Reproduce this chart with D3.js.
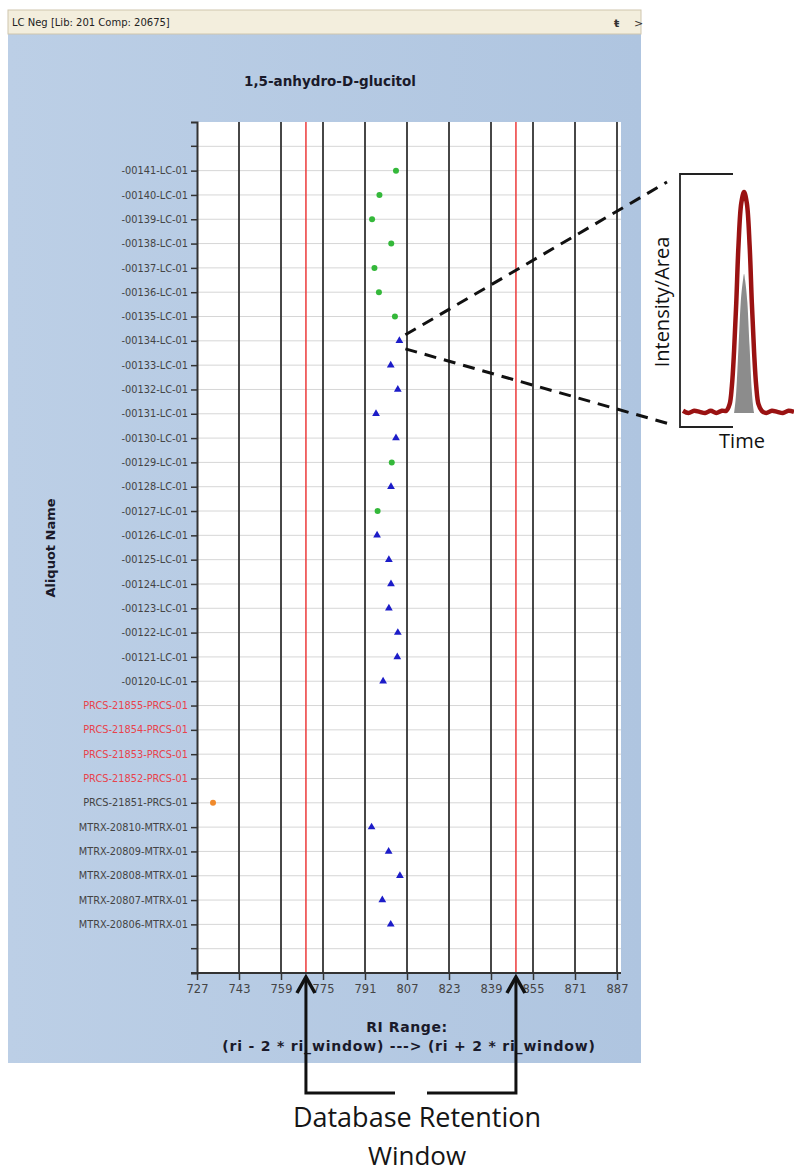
<!DOCTYPE html>
<meta charset="utf-8">
<script src="https://d3js.org/d3.v7.min.js"></script>
<style>
  body { margin: 0; background: #fff; }
</style>
<div id="chart"></div>
<script>

var aliquots = [
  "-00141-LC-01", "-00140-LC-01", "-00139-LC-01", "-00138-LC-01", "-00137-LC-01",
  "-00136-LC-01", "-00135-LC-01", "-00134-LC-01", "-00133-LC-01", "-00132-LC-01",
  "-00131-LC-01", "-00130-LC-01", "-00129-LC-01", "-00128-LC-01", "-00127-LC-01",
  "-00126-LC-01", "-00125-LC-01", "-00124-LC-01", "-00123-LC-01", "-00122-LC-01",
  "-00121-LC-01", "-00120-LC-01",
  "PRCS-21855-PRCS-01", "PRCS-21854-PRCS-01", "PRCS-21853-PRCS-01", "PRCS-21852-PRCS-01",
  "PRCS-21851-PRCS-01",
  "MTRX-20810-MTRX-01", "MTRX-20809-MTRX-01", "MTRX-20808-MTRX-01", "MTRX-20807-MTRX-01",
  "MTRX-20806-MTRX-01"
];

var riValues = [
  802.8, 796.5, 793.7, 801.0, 794.6,
  796.3, 802.4, 804.1, 800.8, 803.5,
  795.2, 802.8, 801.2, 800.9, 795.8,
  795.6, 800.1, 800.9, 800.1, 803.5,
  803.3, 797.9,
  null, null, null, null,
  733.1,
  793.5, 800.0, 804.3, 797.6,
  800.8
];

var markerTypes = [
  "green", "green", "green", "green", "green",
  "green", "green", "blue", "blue", "blue",
  "blue", "blue", "green", "blue", "green",
  "blue", "blue", "blue", "blue", "blue",
  "blue", "blue",
  "none", "none", "none", "none",
  "orange",
  "blue", "blue", "blue", "blue",
  "blue"
];

var flaggedAliquots = ["PRCS-21855-PRCS-01", "PRCS-21854-PRCS-01", "PRCS-21853-PRCS-01", "PRCS-21852-PRCS-01"];

var xTicks = [727, 743, 759, 775, 791, 807, 823, 839, 855, 871, 887];
var windowBounds = [768.5, 848.5];

// inset peak, read by eye (time %, intensity %)
var peakTime =      [0, 5, 10, 15, 20, 25, 30, 35, 39, 42, 44, 46, 48, 50, 52.5, 55, 57.5, 60, 62, 64, 66, 68, 71, 75, 80, 85, 90, 95, 100];
var peakIntensity = [1, 0, 1, 0.5, 0, 1, 0, 1, 1, 4, 12, 28, 50, 76, 95, 100, 95, 76, 50, 28, 12, 4, 1, 0, 1, 0.5, 0, 1, 0.5];
var areaTime =      [46, 48, 50, 52, 54, 55, 56, 58, 60, 62, 64];
var areaIntensity = [0, 10, 30, 50, 60, 63, 60, 50, 30, 10, 0];

var colors = { green: "#34b83a", blue: "#1c1cc8", orange: "#f08a2c" };

var svg = d3.select("#chart")
  .append("svg")
    .attr("width", 794)
    .attr("height", 1176)
    .style("display", "block");

var defs = svg.append("defs");
var grad = defs.append("linearGradient").attr("id", "panelGrad");
grad.append("stop").attr("offset", "0%").attr("stop-color", "#bccfe6");
grad.append("stop").attr("offset", "100%").attr("stop-color", "#afc5e0");

// window frame
svg.append("rect")
  .attr("x", 8).attr("y", 34).attr("width", 633).attr("height", 1029)
  .attr("fill", "url(#panelGrad)");

svg.append("rect")
  .attr("x", 8).attr("y", 10).attr("width", 633).attr("height", 24)
  .attr("fill", "#f3eedd")
  .attr("stroke", "#cfc6ad");

svg.append("text")
  .attr("x", 12).attr("y", 26)
  .attr("font-family", "DejaVu Sans, sans-serif")
  .attr("font-size", "10px")
  .attr("fill", "#222")
  .text("LC Neg [Lib: 201 Comp: 20675]");

svg.append("text")
  .attr("x", 614).attr("y", 27)
  .attr("font-family", "DejaVu Sans, sans-serif")
  .attr("font-size", "11px")
  .attr("font-weight", "bold")
  .attr("fill", "#333")
  .text("ŧ");
svg.append("text")
  .attr("x", 634).attr("y", 27)
  .attr("font-family", "DejaVu Sans, sans-serif")
  .attr("font-size", "11px")
  .attr("fill", "#333")
  .text(">");

// chart title
svg.append("text")
  .attr("x", 330).attr("y", 86)
  .attr("text-anchor", "middle")
  .attr("font-family", "DejaVu Sans, sans-serif")
  .attr("font-size", "13.5px")
  .attr("font-weight", "bold")
  .attr("fill", "#1a1a2a")
  .text("1,5-anhydro-D-glucitol");

// scales
var plotTop = 122, plotBottom = 973;

var x = d3.scaleLinear()
  .domain([727, 887])
  .range([197, 617]);

var y = d3.scalePoint()
  .domain(aliquots)
  .range([plotTop, plotBottom])
  .padding(2);

var plotRight = x(887) + 4;

svg.append("rect")
  .attr("x", x(727)).attr("y", plotTop)
  .attr("width", plotRight - x(727)).attr("height", plotBottom - plotTop)
  .attr("fill", "#fff");

// horizontal grid (rows plus one blank row above and below)
var rowYs = aliquots.map(function(d) { return y(d); });
rowYs.push(y(aliquots[0]) - y.step());
rowYs.push(y(aliquots[aliquots.length - 1]) + y.step());

svg.append("g")
  .selectAll("line")
  .data(rowYs)
  .enter()
  .append("line")
    .attr("x1", x(727)).attr("x2", plotRight)
    .attr("y1", function(d) { return d; })
    .attr("y2", function(d) { return d; })
    .attr("stroke", "#d6d6d6")
    .attr("stroke-width", 1);

// vertical grid
svg.append("g")
  .selectAll("line")
  .data(xTicks.slice(1))
  .enter()
  .append("line")
    .attr("x1", function(d) { return x(d); })
    .attr("x2", function(d) { return x(d); })
    .attr("y1", plotTop).attr("y2", plotBottom)
    .attr("stroke", "#333")
    .attr("stroke-width", 1.8);

// retention window
svg.append("g")
  .selectAll("line")
  .data(windowBounds)
  .enter()
  .append("line")
    .attr("x1", function(d) { return x(d); })
    .attr("x2", function(d) { return x(d); })
    .attr("y1", plotTop).attr("y2", plotBottom)
    .attr("stroke", "#ec3a3a")
    .attr("stroke-width", 1.5);

// y axis
var yAxis = svg.append("g")
  .attr("transform", "translate(" + x(727) + ",0)")
  .call(d3.axisLeft(y).tickSize(6).tickSizeOuter(6).tickPadding(3));

yAxis.select(".domain").attr("stroke", "#333").attr("stroke-width", 2);
yAxis.selectAll(".tick line").attr("stroke", "#333").attr("stroke-width", 1.5);
yAxis.selectAll(".tick text")
  .attr("font-family", "DejaVu Sans, sans-serif")
  .attr("font-size", "9.8px")
  .attr("fill", function(d) { return flaggedAliquots.indexOf(d) >= 0 ? "#e8434c" : "#444"; });

yAxis.selectAll(".blank")
  .data([rowYs[rowYs.length - 2], rowYs[rowYs.length - 1]])
  .enter()
  .append("line")
    .attr("x1", -6).attr("x2", 0)
    .attr("y1", function(d) { return d; })
    .attr("y2", function(d) { return d; })
    .attr("stroke", "#333")
    .attr("stroke-width", 1.5);

// x axis
var xAxis = svg.append("g")
  .attr("transform", "translate(0," + plotBottom + ")")
  .call(d3.axisBottom(x).tickValues(xTicks).tickSize(7).tickSizeOuter(0).tickPadding(5));

xAxis.select(".domain").remove();
xAxis.append("line")
  .attr("x1", x(727) - 6).attr("x2", plotRight)
  .attr("stroke", "#333").attr("stroke-width", 2);
xAxis.selectAll(".tick line").attr("stroke", "#333").attr("stroke-width", 1.5);
xAxis.selectAll(".tick text")
  .attr("font-family", "DejaVu Sans, sans-serif")
  .attr("font-size", "11.5px")
  .attr("fill", "#444");

// axis titles
svg.append("text")
  .attr("x", 407).attr("y", 1032)
  .attr("text-anchor", "middle")
  .attr("font-family", "DejaVu Sans, sans-serif")
  .attr("font-size", "14px")
  .attr("font-weight", "bold")
  .attr("letter-spacing", "0.6px")
  .attr("fill", "#1a1a2a")
  .text("RI Range:");

svg.append("text")
  .attr("x", 409).attr("y", 1051)
  .attr("text-anchor", "middle")
  .attr("font-family", "DejaVu Sans, sans-serif")
  .attr("font-size", "14px")
  .attr("font-weight", "bold")
  .attr("letter-spacing", "0.8px")
  .attr("fill", "#1a1a2a")
  .text("(ri - 2 * ri_window) ---> (ri + 2 * ri_window)");

svg.append("text")
  .attr("transform", "translate(55,548) rotate(-90)")
  .attr("text-anchor", "middle")
  .attr("font-family", "DejaVu Sans, sans-serif")
  .attr("font-size", "13px")
  .attr("font-weight", "bold")
  .attr("fill", "#1a1a2a")
  .text("Aliquot Name");

// points
var points = aliquots.map(function(d, i) {
  return { name: d, ri: riValues[i], type: markerTypes[i] };
}).filter(function(d) { return d.ri !== null; });

svg.append("g")
  .selectAll("circle")
  .data(points.filter(function(d) { return d.type !== "blue"; }))
  .enter()
  .append("circle")
    .attr("cx", function(d) { return x(d.ri); })
    .attr("cy", function(d) { return y(d.name); })
    .attr("r", 3)
    .style("fill", function(d) { return colors[d.type]; });

svg.append("g")
  .selectAll("path")
  .data(points.filter(function(d) { return d.type === "blue"; }))
  .enter()
  .append("path")
    .attr("d", d3.symbol().type(d3.symbolTriangle).size(26))
    .attr("transform", function(d) { return "translate(" + x(d.ri) + "," + y(d.name) + ")"; })
    .style("fill", colors.blue);

// inset peak
var px = d3.scaleLinear().domain([0, 100]).range([683, 794]);
var py = d3.scaleLinear().domain([0, 100]).range([413, 192]);

svg.append("path")
  .datum(areaTime.map(function(t, i) { return [t, areaIntensity[i]]; }))
  .attr("d", d3.area()
    .x(function(d) { return px(d[0]); })
    .y0(py(0))
    .y1(function(d) { return py(d[1]); })
    .curve(d3.curveMonotoneX))
  .attr("fill", "#8c8c8c");

svg.append("path")
  .datum(peakTime.map(function(t, i) { return [t, peakIntensity[i]]; }))
  .attr("d", d3.line()
    .x(function(d) { return px(d[0]); })
    .y(function(d) { return py(d[1]); })
    .curve(d3.curveCatmullRom))
  .attr("fill", "none")
  .attr("stroke", "#9a1212")
  .attr("stroke-width", 4.5)
  .attr("stroke-linejoin", "round");

// inset bracket
svg.append("path")
  .attr("d", "M733,174H680V427H733")
  .attr("fill", "none")
  .attr("stroke", "#222")
  .attr("stroke-width", 1.8);

svg.append("text")
  .attr("transform", "translate(669,302) rotate(-90)")
  .attr("text-anchor", "middle")
  .attr("font-family", "Open Sans, sans-serif")
  .attr("font-size", "20px")
  .attr("fill", "#111")
  .text("Intensity/Area");

svg.append("text")
  .attr("x", 742).attr("y", 448)
  .attr("text-anchor", "middle")
  .attr("font-family", "Open Sans, sans-serif")
  .attr("font-size", "20px")
  .attr("fill", "#111")
  .text("Time");

// zoom lines from the highlighted point
var zoomFrom = { x: x(riValues[7]) + 6, y: y(aliquots[7]) };
svg.append("g")
  .selectAll("line")
  .data([[zoomFrom.y - 6, 182, 667], [zoomFrom.y + 8, 425, 673]])
  .enter()
  .append("line")
    .attr("x1", zoomFrom.x)
    .attr("y1", function(d) { return d[0]; })
    .attr("x2", function(d) { return d[2]; })
    .attr("y2", function(d) { return d[1]; })
    .attr("stroke", "#111")
    .attr("stroke-width", 3)
    .attr("stroke-dasharray", "12,8");

// database retention window arrows
var arrowTip = plotBottom + 4, bracketY = 1093;
var lx = x(windowBounds[0]), rx = x(windowBounds[1]);
svg.append("path")
  .attr("d", "M" + lx + "," + arrowTip + "V" + bracketY + "H395" +
             "M427," + bracketY + "H" + rx + "V" + arrowTip)
  .attr("fill", "none")
  .attr("stroke", "#111")
  .attr("stroke-width", 3);

svg.append("g")
  .selectAll("path")
  .data([lx, rx])
  .enter()
  .append("path")
    .attr("d", function(d) {
      return "M" + (d - 9) + "," + (arrowTip + 16) + "L" + d + "," + arrowTip + "L" + (d + 9) + "," + (arrowTip + 16);
    })
    .attr("fill", "none")
    .attr("stroke", "#111")
    .attr("stroke-width", 3.5);

svg.append("text")
  .attr("x", 417).attr("y", 1127)
  .attr("text-anchor", "middle")
  .attr("font-family", "Open Sans, sans-serif")
  .attr("font-size", "27px")
  .attr("fill", "#151515")
  .text("Database Retention");

svg.append("text")
  .attr("x", 417).attr("y", 1165)
  .attr("text-anchor", "middle")
  .attr("font-family", "Open Sans, sans-serif")
  .attr("font-size", "26px")
  .attr("fill", "#151515")
  .text("Window");

</script>
